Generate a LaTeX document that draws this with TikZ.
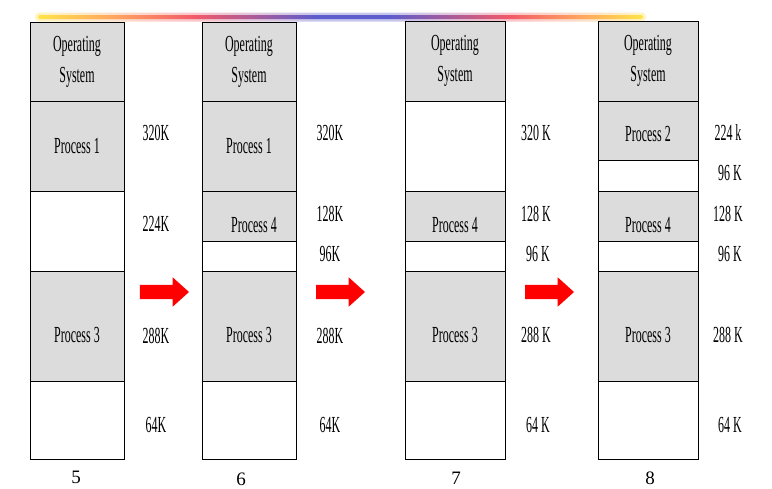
\documentclass[tikz,border=0pt]{standalone}
\usepackage{fontspec}
\setmainfont{Liberation Serif}
\newfontfamily\narrowfont[FakeStretch=0.52]{Liberation Serif}
\usetikzlibrary{positioning,shapes.arrows}
\definecolor{ink}      {HTML}{000000}
\definecolor{memgray}  {HTML}{DCDCDC}
\definecolor{arrowred} {HTML}{FF0000}
\definecolor{baryellow}{HTML}{FFE44A}
\definecolor{barorange}{HTML}{FFA860}
\definecolor{barred}   {HTML}{F25A68}
\definecolor{barblue}  {HTML}{5C5CCC}
\colorlet{haloyellow}{baryellow!35}
\colorlet{haloorange}{barorange!35}
\colorlet{halored}{barred!35}
\colorlet{haloblue}{barblue!35}
\pgfdeclarehorizontalshading{rainbowbar}{100bp}{color(0bp)=(baryellow); color(25bp)=(baryellow);
  color(31bp)=(barorange); color(38bp)=(barred); color(48bp)=(barblue); color(54bp)=(barblue);
  color(64bp)=(barred); color(70bp)=(barorange); color(75bp)=(baryellow); color(100bp)=(baryellow)}
\pgfdeclarehorizontalshading{rainbowhalo}{100bp}{color(0bp)=(haloyellow); color(25bp)=(haloyellow);
  color(31bp)=(haloorange); color(38bp)=(halored); color(48bp)=(haloblue); color(54bp)=(haloblue);
  color(64bp)=(halored); color(70bp)=(haloorange); color(75bp)=(haloyellow); color(100bp)=(haloyellow)}
\tikzset{
  % --- nodes
  seg/.style    = {draw=ink, line width=0.8pt, inner sep=0pt, outer sep=0pt, align=center,
                   minimum width=94pt, font=\narrowfont\fontsize{23}{31}\selectfont},
  wide/.style   = {minimum width=100pt},
  free/.style   = {seg},
  used/.style   = {seg, fill=memgray},
  sunk/.style   = {text height=#1},
  size/.style   = {font=\narrowfont\fontsize{23}{24}\selectfont, inner sep=0pt},
  stage/.style  = {font=\fontsize{19}{20}\selectfont, inner sep=0pt},
  % --- arrows
  shiftarrow/.style = {single arrow, fill=arrowred, draw=none, inner xsep=0pt, inner ysep=7pt,
                       outer sep=0pt, minimum height=49pt, single arrow head extend=7.5pt,
                       single arrow head indent=0pt, single arrow tip angle=84},
}
\begin{document}
\begin{tikzpicture}[x=1pt, y=-1pt]
  \useasboundingbox (0,0) rectangle (772,488);
  % title bar
  \shade[shading=rainbowhalo, rounded corners=4pt] (35,12.5) rectangle (646,21.5);
  \shade[shading=rainbowbar, rounded corners=2pt] (38,15) rectangle (643,19);

  % --- memory map 5
  \node[used, minimum height=79pt] (os5) at (77,61.5) {Operating\\System};
  \node[used, minimum height=90pt, below=0pt of os5] (p1five) {Process 1};
  \node[free, minimum height=80pt, below=0pt of p1five] (holefive) {};
  \node[used, minimum height=110pt, below=0pt of holefive, sunk=33pt] (p3five) {Process 3};
  \node[free, minimum height=78pt, below=0pt of p3five] (endfive) {};
  \node[size] (k320five) at (156,133) {320K};
  \node[size] (k224five) at (156,224) {224K};
  \node[size] (k288five) at (156,336) {288K};
  \node[size] (k64five)  at (156,425) {64K};
  \node[stage] (five) at (76,477) {5};

  % --- memory map 6
  \node[used, minimum height=79pt] (os6) at (249,61.5) {Operating\\System};
  \node[used, minimum height=90pt, below=0pt of os6] (p1six) {Process 1};
  \node[used, minimum height=50pt, below=0pt of p1six, sunk=33pt] (p4six) {\hspace{10pt}Process 4};
  \node[free, minimum height=30pt, below=0pt of p4six] (holesix) {};
  \node[used, minimum height=110pt, below=0pt of holesix, sunk=33pt] (p3six) {Process 3};
  \node[free, minimum height=78pt, below=0pt of p3six] (endsix) {};
  \node[size] (k320six) at (330,133) {320K};
  \node[size] (k128six) at (330,214) {128K};
  \node[size] (k96six)  at (330,254) {96K};
  \node[size] (k288six) at (330,336) {288K};
  \node[size] (k64six)  at (330,425) {64K};
  \node[stage] (six) at (241,479) {6};

  % --- memory map 7
  \node[used, wide, minimum height=80pt] (os7) at (455,61) {Operating\\System};
  \node[free, wide, minimum height=90pt, below=0pt of os7] (holeseven) {};
  \node[used, wide, minimum height=50pt, below=0pt of holeseven, sunk=33pt] (p4seven) {Process 4};
  \node[free, wide, minimum height=30pt, below=0pt of p4seven] (gapseven) {};
  \node[used, wide, minimum height=110pt, below=0pt of gapseven, sunk=33pt] (p3seven) {Process 3};
  \node[free, wide, minimum height=78pt, below=0pt of p3seven] (endseven) {};
  \node[size] (k320seven) at (536,133) {320 K};
  \node[size] (k128seven) at (536,214) {128 K};
  \node[size] (k96seven)  at (538,254) {96 K};
  \node[size] (k288seven) at (536,335) {288 K};
  \node[size] (k64seven)  at (538,425) {64 K};
  \node[stage] (seven) at (456,478) {7};

  % --- memory map 8
  \node[used, wide, minimum height=80pt] (os8) at (648,61) {Operating\\System};
  \node[used, wide, minimum height=59pt, below=0pt of os8, sunk=22pt] (p2eight) {Process 2};
  \node[free, wide, minimum height=31pt, below=0pt of p2eight] (holeeight) {};
  \node[used, wide, minimum height=50pt, below=0pt of holeeight, sunk=33pt] (p4eight) {Process 4};
  \node[free, wide, minimum height=30pt, below=0pt of p4eight] (gapeight) {};
  \node[used, wide, minimum height=110pt, below=0pt of gapeight, sunk=33pt] (p3eight) {Process 3};
  \node[free, wide, minimum height=78pt, below=0pt of p3eight] (endeight) {};
  \node[size] (k224eight) at (728,133) {224 k};
  \node[size] (k96eight)  at (730,173) {96 K};
  \node[size] (k128eight) at (728,214) {128 K};
  \node[size] (k96beight) at (730,254) {96 K};
  \node[size] (k288eight) at (728,335) {288 K};
  \node[size] (k64eight)  at (730,425) {64 K};
  \node[stage] (eight) at (650,478) {8};

  % --- compaction steps
  \node[shiftarrow] (stepa) at (160.5,292) {};
  \node[shiftarrow] (stepb) at (336.5,292) {};
  \node[shiftarrow] (stepc) at (545.5,292) {};
\end{tikzpicture}
\end{document}
